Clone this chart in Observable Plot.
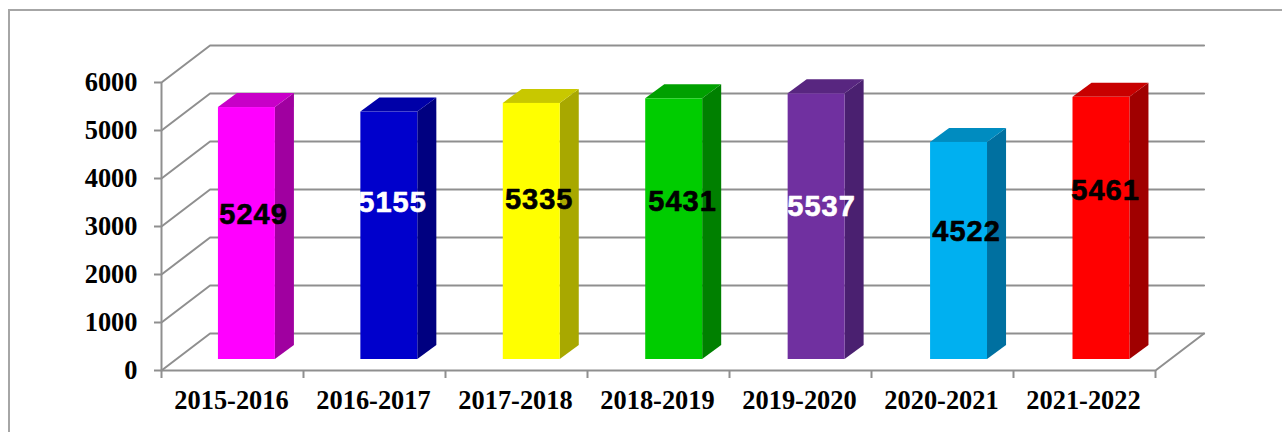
<!DOCTYPE html>
<html><head><meta charset="utf-8">
<script src="https://cdn.jsdelivr.net/npm/d3@7"></script>
<script src="https://cdn.jsdelivr.net/npm/@observablehq/plot@0.6"></script>
<style>
html,body{margin:0;padding:0;background:#fff;overflow:hidden}
#frame{position:absolute;left:8px;top:9px;width:1274px;height:423px;box-sizing:border-box;border-left:2px solid #a6a6a6;border-top:2px solid #a6a6a6}
#chart{position:absolute;left:0;top:0}
svg{background:transparent !important}
.vals text{letter-spacing:1px}
</style></head><body>
<div id="frame"></div><div id="chart"></div>
<script>
const years = ["2015-2016","2016-2017","2017-2018","2018-2019","2019-2020","2020-2021","2021-2022"];
const values = [5249,5155,5335,5431,5537,4522,5461];
const frontColors = ["#ff00ff","#0000cc","#ffff00","#00cc00","#7030a0","#00b0f0","#ff0000"];
const topColors = ["#c800c8","#0000a8","#c8c800","#00a000","#582680","#008cc0","#c80000"];
const sideColors = ["#a000a0","#000080","#a8a800","#008000","#4a2070","#0070a0","#a00000"];
const labelColors = ["#000","#fff","#000","#000","#fff","#000","#000"];
const labelLevels = [3240,3490,3550,3510,3410,2900,3740];
const labelSlots = [0.648,1.627,2.66,3.669,4.648,5.669,6.648];
const yTicks = [0,1000,2000,3000,4000,5000,6000];
const wall = {x:0.342,y:771};
const depth = {x:0.134,y:292};
const barLeft = 0.401, barStep = 1.003, barWidth = 0.401, floorLift = -11;
const grid = "#8f8f8f";

const bars = years.map((year,i)=>({year,i,value:values[i],l:barLeft+i*barStep,r:barLeft+i*barStep+barWidth}));
const slots = d3.range(0,8);
const serif = "'Liberation Serif','Times New Roman',serif";

const topFace = bars.flatMap(b=>[
  {i:b.i,x1:b.l,y1:b.value,x2:b.l+depth.x,y2:b.value+depth.y},
  {i:b.i,x1:b.r,y1:b.value,x2:b.r+depth.x,y2:b.value+depth.y}]);
const sideFace = bars.flatMap(b=>[
  {i:b.i,x1:b.r,y1:0,x2:b.r+depth.x,y2:depth.y},
  {i:b.i,x1:b.r,y1:b.value,x2:b.r+depth.x,y2:b.value+depth.y}]);
const gridPaths = yTicks.flatMap(t=>[
  {t,x:0,y:t},{t,x:wall.x,y:t+wall.y},{t,x:7+wall.x,y:t+wall.y}]);
const floorEdge = [{x:0,y:0},{x:7,y:0},{x:7+wall.x,y:wall.y}];

const chart = Plot.plot({
  width:1282,height:432,
  marginLeft:161,marginRight:127,marginTop:82,marginBottom:62,
  x:{type:"linear",domain:[0,7]},
  y:{domain:[0,6000]},
  marks:[
    Plot.line(gridPaths,{x:"x",y:"y",z:"t",stroke:grid,strokeWidth:2}),
    Plot.line(floorEdge,{x:"x",y:"y",stroke:grid,strokeWidth:2}),
    Plot.ruleX([0],{y1:0,y2:6000,stroke:grid,strokeWidth:2}),
    Plot.axisY({ticks:yTicks,tickSize:7,tickPadding:17,fontSize:26.4,fontWeight:"bold",fontFamily:serif,stroke:grid,strokeWidth:2,color:"#000",tickFormat:d=>String(d),label:null}),
    Plot.axisX({ticks:slots,tickSize:8,tickFormat:()=>"",stroke:grid,strokeWidth:2,label:null}),
    Plot.axisX({ticks:slots.slice(0,7).map(d=>d+0.493),tickSize:0,tickPadding:20,fontSize:26.4,fontWeight:"bold",fontFamily:serif,color:"#000",tickFormat:d=>years[Math.floor(d)],label:null}),
    Plot.area(sideFace,{x1:"x1",y1:"y1",x2:"x2",y2:"y2",z:"i",fill:d=>sideColors[d.i],dy:floorLift}),
    Plot.area(topFace,{x1:"x1",y1:"y1",x2:"x2",y2:"y2",z:"i",fill:d=>topColors[d.i],dy:floorLift}),
    Plot.rect(bars,{x1:"l",x2:"r",y1:0,y2:"value",fill:d=>frontColors[d.i],dy:floorLift}),
    Plot.text(bars,{className:"vals",x:d=>labelSlots[d.i],y:d=>labelLevels[d.i],text:d=>String(d.value),fill:d=>labelColors[d.i],stroke:d=>labelColors[d.i],strokeWidth:0.6,fontSize:29,fontWeight:"bold",fontFamily:"'Liberation Sans',Arial,sans-serif"})
  ]
});
document.getElementById("chart").append(chart);
</script></body></html>
